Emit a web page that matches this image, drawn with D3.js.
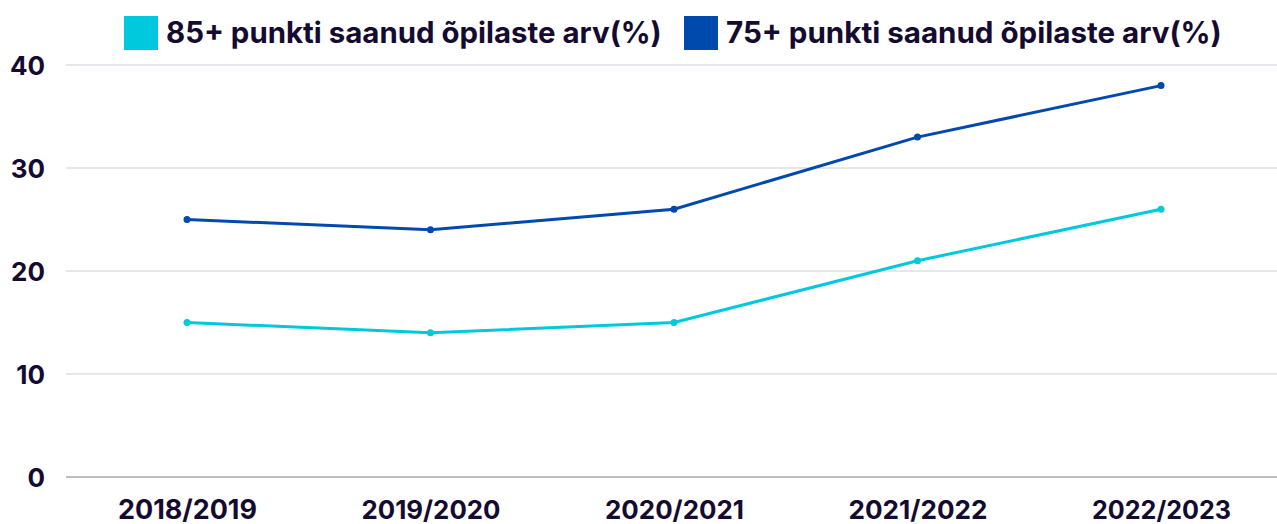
<!DOCTYPE html>
<html><head><meta charset="utf-8">
<script src="https://cdn.jsdelivr.net/npm/d3@7"></script>
<style>
html,body{margin:0;padding:0;background:#fff;}
text{font-family:Inter,"Noto Sans",sans-serif;font-weight:700;fill:#150b30;}
</style></head>
<body><svg id="c" width="1277" height="524"></svg>
<script>
const categories = ["2018/2019","2019/2020","2020/2021","2021/2022","2022/2023"];
const series85 = [15,14,15,21,26];
const series75 = [25,24,26,33,38];
const yTicks = [0,10,20,30,40];
const seriesNames = ["85+ punkti saanud õpilaste arv(%)","75+ punkti saanud õpilaste arv(%)"];
const colors = ["#00c9dd","#0049ad"];

const svg = d3.select("#c");
const x = d3.scalePoint().domain(categories).range([187,1161]);
const y = d3.scaleLinear().domain([0,40]).range([477,65]);

// gridlines
svg.append("g").selectAll("line").data(yTicks).join("line")
  .attr("x1",66).attr("x2",1277)
  .attr("y1",d=>y(d)).attr("y2",d=>y(d))
  .attr("stroke",d=>d===0?"#7d7a90":"#d0d0d8").attr("stroke-width",1.2);

// y axis labels
const yAxis = d3.axisLeft(y).tickValues(yTicks).tickSize(0).tickPadding(0);
const gy = svg.append("g").attr("transform","translate(45,0)").call(yAxis);
gy.select(".domain").remove();
gy.selectAll("text").attr("font-size",26).attr("dy","0.35em").style("font-family","Inter,'Noto Sans',sans-serif").style("font-weight",700).attr("fill","#150b30");

// x axis labels
const xAxis = d3.axisBottom(x).tickSize(0).tickPadding(0);
const gx = svg.append("g").attr("transform","translate(0,510)").call(xAxis);
gx.select(".domain").remove();
gx.selectAll("text").attr("font-size",23).attr("dy","0.35em").attr("y",0).style("font-family","Inter,'Noto Sans',sans-serif").style("font-weight",700).attr("fill","#150b30")
  .each(function(){ const w=this.getComputedTextLength(); d3.select(this).attr("font-size",23*139/w); });

// lines
const line = d3.line().x((d,i)=>x(categories[i])).y(d=>y(d));
[series85,series75].forEach((s,k)=>{
  svg.append("path").datum(s).attr("d",line).attr("fill","none")
    .attr("stroke",colors[k]).attr("stroke-width",3);
  svg.append("g").selectAll("circle").data(s).join("circle")
    .attr("cx",(d,i)=>x(categories[i])).attr("cy",d=>y(d)).attr("r",3.5)
    .attr("fill",colors[k]);
});

// legend
const legX = [124,684];
const leg = svg.append("g");
seriesNames.forEach((n,k)=>{
  leg.append("rect").attr("x",legX[k]).attr("y",16).attr("width",34).attr("height",34).attr("fill",colors[k]);
  const t = leg.append("text").attr("x",legX[k]+42).attr("y",33).attr("dy","0.35em")
    .attr("font-size",26).text(n);
  const w = t.node().getComputedTextLength();
  t.attr("font-size",26*496/w);
});
</script></body></html>
